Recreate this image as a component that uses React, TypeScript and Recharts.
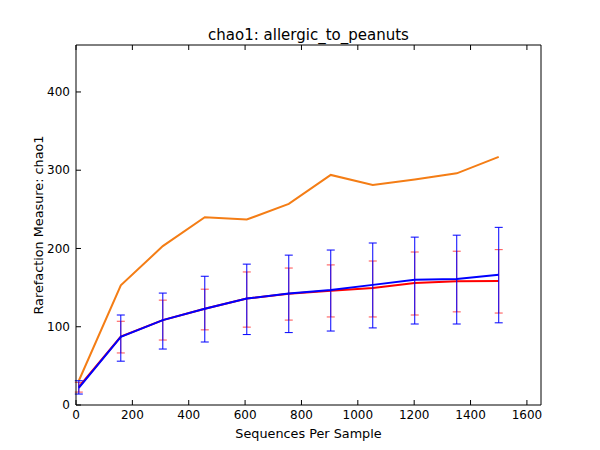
import React from 'react';
import {
  LineChart,
  Line,
  XAxis,
  YAxis,
  ErrorBar,
} from 'recharts';

// sequences per sample (rarefaction depths)
const depths = [10, 159, 308, 457, 606, 755, 904, 1053, 1202, 1351, 1500];

// orange series (no error bars)
const orangeMean = [31, 153, 203, 240, 237, 257, 294, 281, 288, 296, 317];

// red series: mean and error bar ends
const redMean = [23, 87.5, 108.5, 123, 136, 142, 146, 149.5, 156, 158, 158.5];
const redLow = [16.5, 66.5, 83, 96, 99.5, 108.5, 112.5, 112.5, 115, 119, 117.5];
const redHigh = [29, 107, 134, 148, 170, 175, 179, 184, 195.5, 196.5, 198.5];

// blue series: mean and error bar ends
const blueMean = [22, 87, 108.5, 123, 136, 142.5, 147, 153.5, 160, 161, 166.5];
const blueLow = [14, 56, 71.5, 80.5, 90, 92.5, 94.5, 98.5, 103.5, 103.5, 105];
const blueHigh = [31, 115, 143, 164.5, 180, 191.5, 198, 207, 214.5, 217, 227];

const xTicks = [0, 200, 400, 600, 800, 1000, 1200, 1400, 1600];
const yTicks = [0, 100, 200, 300, 400];

const data = depths.map((d, i) => ({
  depth: d,
  orange: orangeMean[i],
  red: redMean[i],
  redErr: [redMean[i] - redLow[i], redHigh[i] - redMean[i]],
  blue: blueMean[i],
  blueErr: [blueMean[i] - blueLow[i], blueHigh[i] - blueMean[i]],
}));

const FONT = 'DejaVu Sans, sans-serif';
const tickStyle = { fontSize: 12, fill: '#000', fontFamily: FONT };
const blank = () => '';

export default function App() {
  return (
    <div style={{ position: 'fixed', left: 0, top: 0, background: '#fff' }}>
      <LineChart
        width={600}
        height={450}
        data={data}
        margin={{ top: 44, right: 58, bottom: 0, left: 0 }}
      >
        <XAxis
          dataKey="depth"
          type="number"
          domain={[0, 1650]}
          ticks={xTicks}
          height={45}
          stroke="#000"
          tickSize={-5}
          tickMargin={10}
          tick={tickStyle}
          label={{
            value: 'Sequences Per Sample',
            position: 'insideBottom',
            offset: 12,
            style: { fontSize: 12.8, fill: '#000', fontFamily: FONT },
          }}
        />
        <XAxis
          xAxisId="top"
          orientation="top"
          dataKey="depth"
          type="number"
          domain={[0, 1650]}
          ticks={xTicks}
          height={1}
          stroke="#000"
          tickSize={-5}
          tickFormatter={blank}
          label={{
            value: 'chao1: allergic_to_peanuts',
            position: 'top',
            offset: 4,
            style: { fontSize: 15, fill: '#000', fontFamily: FONT },
          }}
        />
        <YAxis
          type="number"
          domain={[0, 460]}
          ticks={yTicks}
          width={76}
          stroke="#000"
          tickSize={-5}
          tickMargin={11}
          tick={tickStyle}
          label={{
            value: 'Rarefaction Measure: chao1',
            angle: -90,
            position: 'center',
            style: { fontSize: 12.8, fill: '#000', fontFamily: FONT },
          }}
        />
        <YAxis
          yAxisId="right"
          orientation="right"
          type="number"
          domain={[0, 460]}
          ticks={yTicks}
          width={1}
          stroke="#000"
          tickSize={-5}
          tickFormatter={blank}
        />
        <Line
          dataKey="orange"
          stroke="#f47d15"
          strokeWidth={2}
          dot={false}
          isAnimationActive={false}
        />
        <Line
          dataKey="red"
          stroke="#ff0000"
          strokeWidth={2}
          dot={false}
          isAnimationActive={false}
        >
          <ErrorBar dataKey="redErr" stroke="#ff0000" strokeWidth={1} width={4} strokeOpacity={0.7} />
        </Line>
        <Line
          dataKey="blue"
          stroke="#0000ff"
          strokeWidth={2}
          dot={false}
          isAnimationActive={false}
        >
          <ErrorBar dataKey="blueErr" stroke="#0000ff" strokeWidth={1} width={4} />
        </Line>
      </LineChart>
    </div>
  );
}
